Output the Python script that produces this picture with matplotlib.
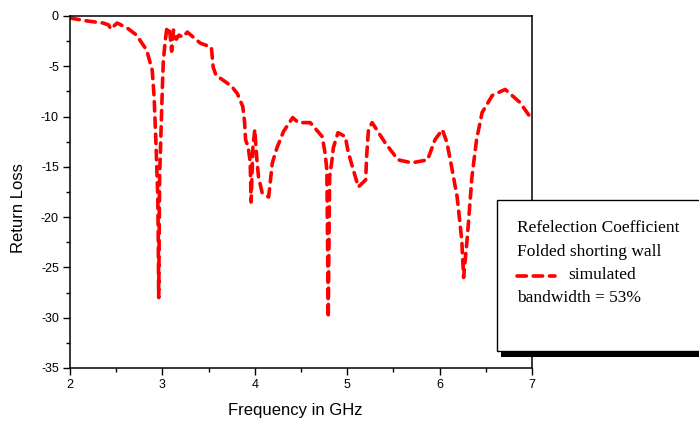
from matplotlib import pyplot as plt
from matplotlib.patches import Rectangle
import matplotlib.lines as lines

plt.rcParams['axes.unicode_minus'] = False

# simulated return loss
freq = [2.00, 2.19, 2.36, 2.42, 2.44, 2.51, 2.62, 2.72, 2.83, 2.89, 2.91, 2.93,
        2.95, 2.955, 2.96, 2.965, 2.97, 2.99, 3.00, 3.01, 3.03, 3.05, 3.08, 3.10,
        3.12, 3.15, 3.18, 3.22, 3.27, 3.41, 3.53, 3.55, 3.58, 3.66, 3.75, 3.81,
        3.87, 3.89, 3.90, 3.93, 3.95, 3.96, 3.98, 4.00, 4.02, 4.04, 4.08, 4.15,
        4.17, 4.19, 4.24, 4.31, 4.41, 4.47, 4.60, 4.73, 4.76, 4.78, 4.785, 4.79,
        4.795, 4.80, 4.81, 4.84, 4.85, 4.90, 4.98, 5.01, 5.06, 5.12, 5.20, 5.21,
        5.23, 5.27, 5.41, 5.55, 5.70, 5.87, 5.95, 6.03, 6.08, 6.13, 6.19, 6.24,
        6.26, 6.30, 6.35, 6.40, 6.46, 6.57, 6.71, 6.87, 7.00]
loss = [-0.2, -0.5, -0.7, -0.9, -1.3, -0.7, -1.2, -1.9, -3.4, -5.4, -8.0, -12.6,
        -18.0, -22.0, -28.0, -22.0, -16.0, -10.0, -7.0, -4.5, -2.5, -1.1, -1.6, -3.5,
        -1.4, -2.3, -1.9, -2.1, -1.6, -2.7, -3.1, -5.1, -5.9, -6.4, -7.0, -7.7,
        -9.0, -10.6, -12.3, -13.1, -14.5, -18.5, -13.0, -11.3, -14.0, -16.0, -17.6, -18.0,
        -16.3, -14.6, -13.1, -11.5, -10.1, -10.6, -10.6, -12.0, -13.6, -15.3, -20.0, -25.0,
        -30.0, -25.0, -16.0, -14.0, -13.1, -11.6, -12.0, -13.5, -15.1, -17.0, -16.3, -14.0,
        -11.3, -10.6, -12.6, -14.3, -14.6, -14.3, -12.3, -11.3, -12.6, -15.0, -18.0, -22.3,
        -26.0, -22.0, -16.0, -12.3, -9.6, -7.9, -7.3, -8.6, -10.3]

legend_lines = ['Refelection Coefficient', 'Folded shorting wall', 'simulated',
                'bandwidth = 53%']

fig = plt.figure(figsize=(6.99, 4.21), dpi=100)
ax = fig.add_axes([70/699, 1 - 368/421, 462/699, 352/421])

ax.plot(freq, loss, color='red', lw=2.6, linestyle=(0, (2.6, 1.9)),
        dash_capstyle='round', solid_capstyle='round')

ax.set_xlim(2, 7)
ax.set_ylim(-35, 0)
ax.set_xticks([2, 3, 4, 5, 6, 7])
ax.set_xticks([2.5, 3.5, 4.5, 5.5, 6.5], minor=True)
ax.set_yticks(range(-35, 1, 5))
ax.set_yticks([-32.5, -27.5, -22.5, -17.5, -12.5, -7.5, -2.5], minor=True)
ax.tick_params(which='major', direction='out', length=5, width=1, labelsize=9, pad=3)
ax.tick_params(which='minor', direction='out', length=3, width=1)
for t in ax.get_xticklabels() + ax.get_yticklabels():
    t.set_family('Liberation Sans')
for s in ax.spines.values():
    s.set_linewidth(1.1)

fig.text(295/699, 1 - 410/421, 'Frequency in GHz', ha='center', va='center',
         family='Liberation Sans', fontsize=12)
fig.text(19/699, 1 - 208/421, 'Return Loss', ha='center', va='center',
         rotation=90, family='Liberation Sans', fontsize=12)

# legend box with drop shadow, running off the right edge
shadow = Rectangle((501/699, 1 - 357/421), 0.4, 6/421, transform=fig.transFigure,
                   facecolor='black', edgecolor='none', zorder=4)
box = Rectangle((497/699, 1 - 351/421), 0.4, 151/421, transform=fig.transFigure,
                facecolor='white', edgecolor='black', lw=1, zorder=5)
fig.add_artist(shadow)
fig.add_artist(box)

ys = [228, 252, 275, 298]
for i, txt in enumerate(legend_lines):
    x = 568 if i == 2 else 517
    fig.text(x/699, 1 - ys[i]/421, txt, ha='left', va='center',
             family='Liberation Serif', fontsize=12.5, zorder=6)
fig.add_artist(lines.Line2D([517/699, 555/699], [1 - 276/421, 1 - 276/421],
                            transform=fig.transFigure, color='red', lw=2.6,
                            linestyle=(0, (2.6, 1.9)), dash_capstyle='round', zorder=6))

plt.savefig('out.png', dpi=100)
